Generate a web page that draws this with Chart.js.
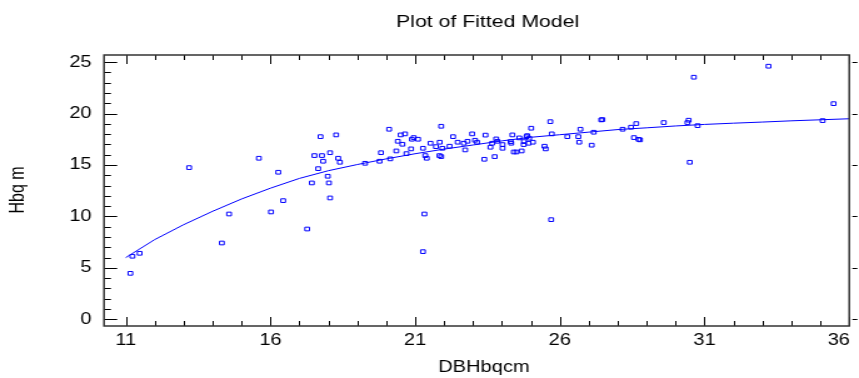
<!DOCTYPE html>
<html>
<head>
<meta charset="utf-8">
<title>Plot of Fitted Model</title>
<script src="https://cdn.jsdelivr.net/npm/chart.js@4.4.1/dist/chart.umd.min.js"></script>
<style>
  html, body { margin: 0; padding: 0; background: #fff; }
  canvas { display: block; }
</style>
</head>
<body>
<canvas id="fitChart" width="687" height="378" style="width:859px;height:378px"></canvas>
<script>
// observed trees
const dbh = [
  11.16, 11.23, 11.48, 13.19, 14.32, 14.57, 15.60, 16.02, 16.27, 16.44,
  17.27, 17.43, 17.52, 17.65, 17.73, 17.78, 17.82, 17.98, 18.02, 18.06,
  18.06, 18.27, 18.34, 18.40, 19.27, 19.77, 19.82, 20.10, 20.14, 20.35,
  20.40, 20.50, 20.56, 20.65, 20.70, 20.86, 20.89, 20.95, 21.10, 21.27,
  21.27, 21.32, 21.35, 21.40, 21.53, 21.72, 21.84, 21.85, 21.90, 21.90,
  21.94, 22.19, 22.31, 22.47, 22.68, 22.73, 22.81, 22.97, 23.07, 23.14,
  23.39, 23.43, 23.60, 23.66, 23.75, 23.80, 23.84, 24.02, 24.02, 24.30,
  24.32, 24.36, 24.41, 24.50, 24.60, 24.68, 24.75, 24.76, 24.85, 24.87,
  24.92, 24.94, 25.01, 25.07, 25.47, 25.51, 25.67, 25.70, 25.72, 26.26,
  26.64, 26.67, 26.71, 27.10, 27.17, 27.43, 27.47, 28.17, 28.46, 28.56,
  28.64, 28.72, 28.77, 29.59, 30.41, 30.45, 30.49, 30.63, 30.76, 33.21,
  35.08, 35.46
];
const heightM = [
   4.47,  6.13,  6.42, 14.75,  7.42, 10.24, 15.66, 10.44, 14.30, 11.54,
   8.78, 13.26, 15.92, 14.65, 17.76, 15.92, 15.37, 13.91, 13.26, 16.20,
  11.80, 17.93, 15.66, 15.27, 15.17, 15.37, 16.20, 18.48, 15.60, 16.37,
  17.31, 17.93, 17.02, 18.03, 16.11, 16.57, 17.51, 17.67, 17.51, 16.63,
   6.58, 10.24, 15.92, 15.66, 17.12, 16.79, 15.92, 17.22, 18.77, 15.82,
  16.63, 16.83, 17.76, 17.22, 17.12, 16.47, 17.31, 18.03, 17.41, 17.22,
  15.56, 17.91, 16.73, 17.12, 15.82, 17.54, 17.31, 16.99, 16.63, 17.28,
  17.12, 17.93, 16.27, 16.27, 17.64, 16.37, 16.99, 17.28, 17.76, 17.86,
  17.12, 17.61, 18.58, 17.22, 16.83, 16.57, 19.22,  9.69, 18.03, 17.76,
  17.76, 17.22, 18.48, 16.93, 18.19, 19.39, 19.42, 18.48, 18.68, 17.67,
  19.03, 17.50, 17.45, 19.13, 19.13, 19.36, 15.27, 23.54, 18.83, 24.61,
  19.32, 20.97
];

// fitted curve, read at whole cm
const fitX = [11, 12, 13, 14, 15, 16, 17, 18, 19, 20, 21, 22, 23, 24, 25,
              26, 27, 28, 29, 30, 31, 32, 33, 34, 35, 36];
const fitY = [6.0, 7.75, 9.2, 10.5, 11.7, 12.75, 13.7, 14.45, 15.05, 15.6,
              16.1, 16.55, 16.95, 17.35, 17.7, 17.95, 18.2, 18.45, 18.62, 18.8,
              18.95, 19.07, 19.18, 19.3, 19.4, 19.5];

const xTicks = [11, 16, 21, 26, 31, 36];
const yTicks = [0, 5, 10, 15, 20, 25];

const FONT = "'Liberation Sans', Arial, sans-serif";
const BLUE = "#0000ff";
const lastX = xTicks[xTicks.length - 1];

// frame with inward ticks + titles, drawn like the old stat package does it
const framePlugin = {
  id: "frame",
  afterDraw(chart) {
    const { ctx, chartArea: a, scales } = chart;
    const xs = scales.x, ys = scales.y;
    ctx.save();

    ctx.strokeStyle = "#000";
    ctx.lineWidth = 1;
    for (let v = 11; v <= 36; v++) {
      const x = Math.round(xs.getPixelForValue(v)) + 0.5;
      const len = (v - 11) % 5 === 0 ? 9 : 5;
      ctx.beginPath();
      ctx.moveTo(x, a.bottom); ctx.lineTo(x, a.bottom - len);
      ctx.moveTo(x, a.top); ctx.lineTo(x, a.top + len);
      ctx.stroke();
    }
    for (let v = 0; v <= 25; v++) {
      const y = Math.round(ys.getPixelForValue(v)) + 0.5;
      const len = v % 5 === 0 ? 10.5 : 5.5;
      ctx.beginPath();
      ctx.moveTo(a.left, y); ctx.lineTo(a.left + len, y);
      if (v % 5 === 0) { ctx.moveTo(a.right + 2.5, y); ctx.lineTo(a.right + 6.5, y); }
      ctx.stroke();
    }

    ctx.strokeStyle = "#333";
    ctx.lineWidth = 1.5;
    ctx.strokeRect(a.left, a.top, a.right - a.left, a.bottom - a.top);

    ctx.fillStyle = "#000";

    // last x label sits inside the frame edge, not centred on its tick
    ctx.font = "16px " + FONT;
    ctx.textAlign = "right";
    ctx.textBaseline = "middle";
    ctx.fillText(String(lastX), xs.getPixelForValue(lastX) + 0.5, a.bottom + 5 + 9.6);

    ctx.textAlign = "center";
    ctx.font = "17px " + FONT;
    ctx.textBaseline = "alphabetic";
    ctx.fillText("Plot of Fitted Model", 390, 26.5);

    ctx.font = "16px " + FONT;
    ctx.textBaseline = "middle";
    ctx.fillText("DBHbqcm", 387, 368);

    ctx.translate(14.5, 190);
    ctx.rotate(-Math.PI / 2);
    ctx.fillText("Hbq m", 0, 0);
    ctx.restore();
  }
};

const ctx = document.getElementById("fitChart").getContext("2d");
new Chart(ctx, {
  type: "scatter",
  data: {
    datasets: [
      {
        label: "observed",
        data: dbh.map((d, i) => ({ x: d, y: heightM[i] })),
        pointStyle: "rect",
        pointRadius: 2.6,
        borderWidth: 1,
        borderColor: BLUE,
        backgroundColor: "rgba(0,0,0,0)"
      },
      {
        label: "fitted",
        type: "line",
        data: fitX.map((d, i) => ({ x: d, y: fitY[i] })),
        pointRadius: 0,
        borderWidth: 1,
        borderColor: BLUE,
        tension: 0,
        fill: false
      }
    ]
  },
  options: {
    responsive: false,
    animation: false,
    devicePixelRatio: 1,
    events: [],
    layout: { padding: { top: 55, right: 7.8, left: 0, bottom: 0 } },
    plugins: { legend: { display: false }, tooltip: { enabled: false } },
    scales: {
      x: {
        type: "linear",
        min: 10.25,
        max: 36,
        grid: { display: false, drawTicks: false },
        border: { display: false },
        ticks: {
          font: { family: FONT, size: 16 }, color: "#000", padding: 5, maxRotation: 0, autoSkip: false,
          callback: v => (v === lastX ? "" : String(v))
        },
        afterBuildTicks: s => { s.ticks = xTicks.map(v => ({ value: v })); },
        afterFit: s => { s.height = 52; s.paddingLeft = 0; s.paddingRight = 0; }
      },
      y: {
        type: "linear",
        min: -0.65,
        max: 25.7,
        grid: { display: false, drawTicks: false },
        border: { display: false },
        ticks: { font: { family: FONT, size: 16 }, color: "#000", padding: 10 },
        afterBuildTicks: s => { s.ticks = yTicks.map(v => ({ value: v })); },
        afterFit: s => { s.width = 83.2; s.paddingTop = 0; s.paddingBottom = 0; }
      }
    }
  },
  plugins: [framePlugin]
});
</script>
</body>
</html>
